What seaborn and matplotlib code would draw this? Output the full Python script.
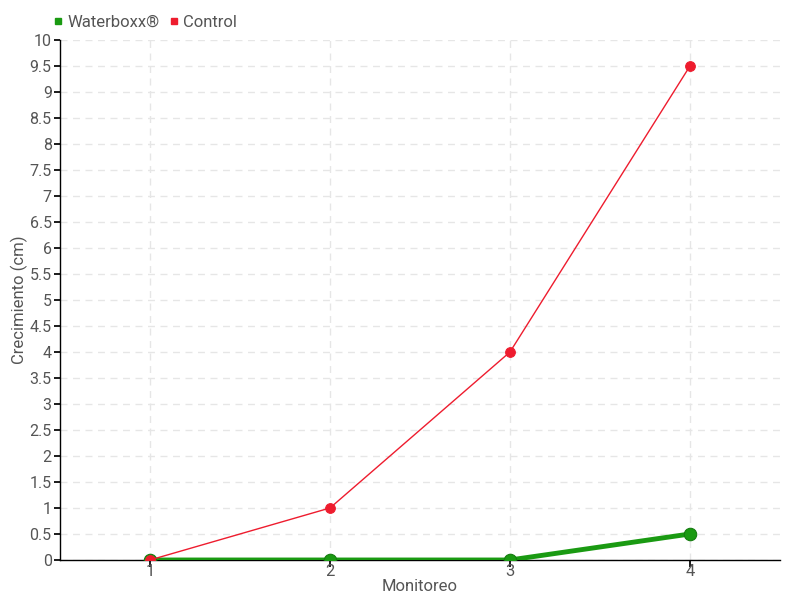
import numpy as np
import pandas as pd
from matplotlib import pyplot as plt
from matplotlib.lines import Line2D
import seaborn as sns

monitoreo = [1, 2, 3, 4]
waterboxx = [0, 0, 0, 0.5]
control = [0, 1, 4, 9.5]

df = pd.DataFrame({
    "Monitoreo": monitoreo * 2,
    "Crecimiento": waterboxx + control,
    "Serie": ["Waterboxx®"] * 4 + ["Control"] * 4,
})

sns.set_theme(style="white")
plt.rcParams['font.family'] = ['Roboto', 'DejaVu Sans']
txt = "#555555"

fig = plt.figure(figsize=(8, 6), dpi=100)
ax = fig.add_axes([0.075, 0.0667, 0.9, 0.8667])

green = "#1a9a12"
red = "#ee1c2e"
sub = df[df.Serie == "Waterboxx®"]
sns.lineplot(data=sub, x="Monitoreo", y="Crecimiento", color=green, lw=3.5,
             marker="o", markersize=9, markeredgecolor="#137a0e", ax=ax, zorder=3)
sub = df[df.Serie == "Control"]
sns.lineplot(data=sub, x="Monitoreo", y="Crecimiento", color=red, lw=1,
             marker="o", markersize=7, markeredgecolor=red, ax=ax, zorder=4)

ax.set_xlim(0.5, 4.5)
ax.set_ylim(0, 10)
ax.set_xticks(monitoreo)
yt = np.arange(0, 10.01, 0.5)
ax.set_yticks(yt)
ax.set_yticklabels([f"{v:g}" for v in yt])
ax.grid(True, color="#e6e6e6", linestyle=(0, (5, 4)), lw=1)
for s in ["top", "right"]:
    ax.spines[s].set_visible(False)
for s in ["left", "bottom"]:
    ax.spines[s].set_color("black")
    ax.spines[s].set_linewidth(1)
ax.tick_params(axis="y", left=True, length=4, color="black", labelsize=11.5, labelcolor=txt, pad=2)
ax.tick_params(axis="x", bottom=True, length=5, color="black", labelsize=12, labelcolor=txt, pad=-2)
ax.set_xlabel("Monitoreo", color=txt, fontsize=12, labelpad=0)
ax.set_ylabel("Crecimiento (cm)", color=txt, fontsize=12)
ax.yaxis.set_label_coords(-0.045, 0.5)

handles = [Line2D([], [], ls="none", marker="s", color=green, markersize=5),
           Line2D([], [], ls="none", marker="s", color=red, markersize=5)]
ax.legend(handles, ["Waterboxx®", "Control"], loc="lower left", bbox_to_anchor=(-0.022, 1.0),
          ncol=2, frameon=False, fontsize=12, handlelength=0.5, handletextpad=0.3,
          columnspacing=0.6, labelcolor=txt, borderaxespad=0.2)

fig.savefig("out.png", dpi=100)
